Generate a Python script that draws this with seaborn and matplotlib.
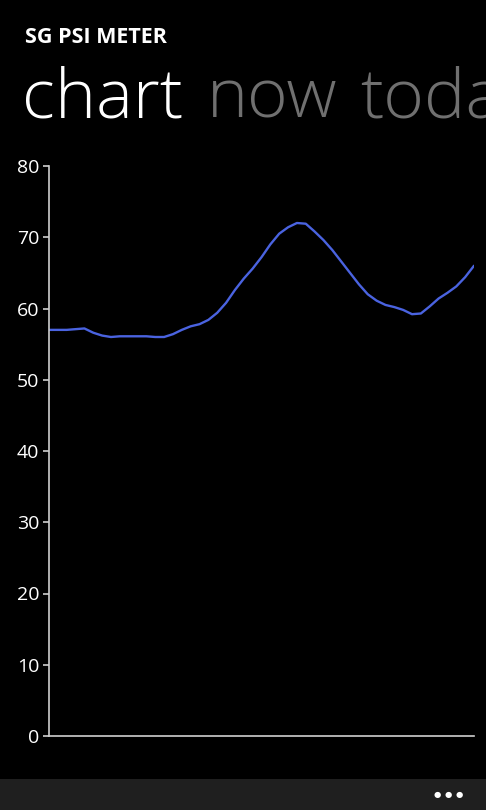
import numpy as np
import pandas as pd
import matplotlib
matplotlib.use("Agg")
import matplotlib.pyplot as plt
import seaborn as sns

# half-hourly PSI readings over 24 hours
hours = [i / 2 for i in range(49)]
psi = [57.0, 57.0, 57.0, 57.1, 57.2, 56.6, 56.2, 56.0, 56.1, 56.1,
       56.1, 56.1, 56.0, 56.0, 56.4, 57.0, 57.5, 57.8, 58.4, 59.4,
       60.8, 62.6, 64.2, 65.6, 67.2, 69.0, 70.5, 71.4, 72.0, 71.9,
       70.8, 69.6, 68.2, 66.6, 65.0, 63.4, 62.0, 61.1, 60.5, 60.2,
       59.8, 59.2, 59.3, 60.3, 61.4, 62.2, 63.1, 64.4, 66.0]
y_ticks = [0, 10, 20, 30, 40, 50, 60, 70, 80]
pivot_items = ["chart", "now", "today"]

df = pd.DataFrame({"hour": hours, "psi": psi})

sns.set_theme(style="dark")
plt.rcParams["font.family"] = ["Open Sans", "DejaVu Sans"]

W, H = 486, 810
fig = plt.figure(figsize=(W / 100, H / 100), dpi=100, facecolor="black")
ax = fig.add_axes([49 / W, 1 - 736 / H, (474 - 49) / W, (736 - 166) / H])
ax.set_facecolor("black")

sns.lineplot(data=df, x="hour", y="psi", ax=ax, color="#4a63e0",
             linewidth=1.7, solid_joinstyle="round", solid_capstyle="round")

ax.set_xlim(hours[0], hours[-1])
ax.set_ylim(0, 80)
ax.set_yticks(y_ticks)
ax.set_xticks([])
ax.set_xlabel("")
ax.set_ylabel("")
ax.grid(False)
for side in ["top", "right"]:
    ax.spines[side].set_visible(False)
for side in ["left", "bottom"]:
    ax.spines[side].set_visible(True)
    ax.spines[side].set_color("#cfcfcf")
    ax.spines[side].set_linewidth(1.2)
ax.tick_params(axis="y", colors="#cfcfcf", labelcolor="white", length=4,
               width=1.2, labelsize=14, pad=3, left=True)

# header texts
fig.text(25 / W, 1 - 43 / H, "SG PSI METER", color="white", fontsize=15.5,
         fontweight="bold", va="baseline", ha="left")
pivot_x = [22, 207, 360]
pivot_colors = ["white", "#707070", "#707070"]
for name, px, c in zip(pivot_items, pivot_x, pivot_colors):
    fig.text(px / W, 1 - 118 / H, name, color=c, fontsize=50,
             fontweight="light", va="baseline", ha="left")

# app bar at the bottom
fig.patches.append(plt.Rectangle((0, 0), 1, 31 / H, transform=fig.transFigure,
                                 facecolor="#1f1f1f", edgecolor="none"))
for dx in [437, 448, 459]:
    fig.text(dx / W, 1 - 794 / H, "\u25cf", color="white", fontsize=6,
             ha="center", va="center", family=["DejaVu Sans"])

fig.savefig("out.png", dpi=100, facecolor="black")
